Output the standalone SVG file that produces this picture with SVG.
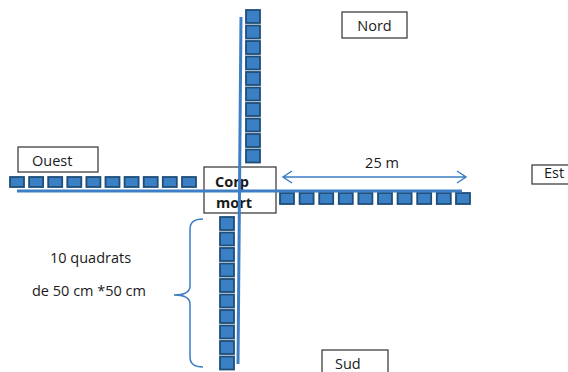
<svg xmlns="http://www.w3.org/2000/svg" width="568" height="372" viewBox="0 0 568 372">
<style>
.q{fill:#3B7FC4;stroke:#1F4E79;stroke-width:1.8}
.ln{stroke:#3D7EC4;stroke-width:3;fill:none}
.bx{fill:#fff;stroke:#404040;stroke-width:1.3}
.t{font-family:"Open Sans","Liberation Sans",sans-serif;font-size:14.5px;fill:#1a1a1a}
.b{font-weight:bold}
.thin{stroke:#3D7EC4;stroke-width:1.5;fill:none}
</style>
<g id="nord"><rect class="bx" x="342" y="12" width="65" height="26"/><text class="t" x="374.5" y="31" text-anchor="middle">Nord</text></g>
<g id="ouest"><rect class="bx" x="18" y="147" width="80" height="25"/><text class="t" x="32" y="166">Ouest</text></g>
<g id="est"><rect class="bx" x="532" y="165" width="40" height="19"/><text class="t" x="544" y="178">Est</text></g>
<g id="sud"><rect class="bx" x="322" y="350" width="66" height="30"/><text class="t" x="335" y="369">Sud</text></g>
<g id="corp-mort"><rect class="bx" x="204" y="167" width="72" height="46"/><text class="t b" x="215" y="187">Corp</text><text class="t b" x="216" y="208">mort</text></g>
<g id="quadrats-nord">
<rect class="q" x="246" y="10" width="14" height="13"/><rect class="q" x="246" y="25.5" width="14" height="13"/><rect class="q" x="246" y="41" width="14" height="13"/><rect class="q" x="246" y="56.5" width="14" height="13"/><rect class="q" x="246" y="72" width="14" height="13"/><rect class="q" x="246" y="87.5" width="14" height="13"/><rect class="q" x="246" y="103" width="14" height="13"/><rect class="q" x="246" y="118.5" width="14" height="13"/><rect class="q" x="246" y="134" width="14" height="13"/><rect class="q" x="246" y="149.5" width="14" height="13"/>
</g>
<g id="quadrats-ouest">
<rect class="q" x="10" y="177" width="14" height="10"/><rect class="q" x="29.1" y="177" width="14" height="10"/><rect class="q" x="48.2" y="177" width="14" height="10"/><rect class="q" x="67.3" y="177" width="14" height="10"/><rect class="q" x="86.4" y="177" width="14" height="10"/><rect class="q" x="105.5" y="177" width="14" height="10"/><rect class="q" x="124.6" y="177" width="14" height="10"/><rect class="q" x="143.7" y="177" width="14" height="10"/><rect class="q" x="162.8" y="177" width="14" height="10"/><rect class="q" x="182" y="177" width="14" height="10"/>
</g>
<g id="quadrats-est">
<rect class="q" x="280" y="193" width="14" height="11"/><rect class="q" x="299.6" y="193" width="14" height="11"/><rect class="q" x="319.2" y="193" width="14" height="11"/><rect class="q" x="338.8" y="193" width="14" height="11"/><rect class="q" x="358.4" y="193" width="14" height="11"/><rect class="q" x="378" y="193" width="14" height="11"/><rect class="q" x="397.6" y="193" width="14" height="11"/><rect class="q" x="417.2" y="193" width="14" height="11"/><rect class="q" x="436.8" y="193" width="14" height="11"/><rect class="q" x="456" y="193" width="14" height="11"/>
</g>
<g id="quadrats-sud">
<rect class="q" x="220" y="217" width="14" height="13"/><rect class="q" x="220" y="232.5" width="14" height="13"/><rect class="q" x="220" y="248" width="14" height="13"/><rect class="q" x="220" y="263.5" width="14" height="13"/><rect class="q" x="220" y="279" width="14" height="13"/><rect class="q" x="220" y="294.5" width="14" height="13"/><rect class="q" x="220" y="310" width="14" height="13"/><rect class="q" x="220" y="325.5" width="14" height="13"/><rect class="q" x="220" y="341" width="14" height="13"/><rect class="q" x="220" y="356.5" width="14" height="13"/>
</g>
<g id="connecteurs">
<line class="ln" x1="241" y1="17" x2="238" y2="364"/>
<line class="ln" x1="17" y1="191" x2="462" y2="191"/>
<path class="thin" d="M283,177 H466 M292,171 L283,177 L292,183 M457,171 L466,177 L457,183"/>
<path class="thin" d="M203,219 Q190,219 190,229 V286 Q190,295 174,295 Q190,295 190,304 V357 Q190,367 203,367"/>
</g>
<g id="legende">
<text class="t" x="382" y="168" text-anchor="middle">25 m</text>
<text class="t" x="50" y="263">10 quadrats</text>
<text class="t" x="32" y="296">de 50 cm *50 cm</text>
</g>
</svg>
